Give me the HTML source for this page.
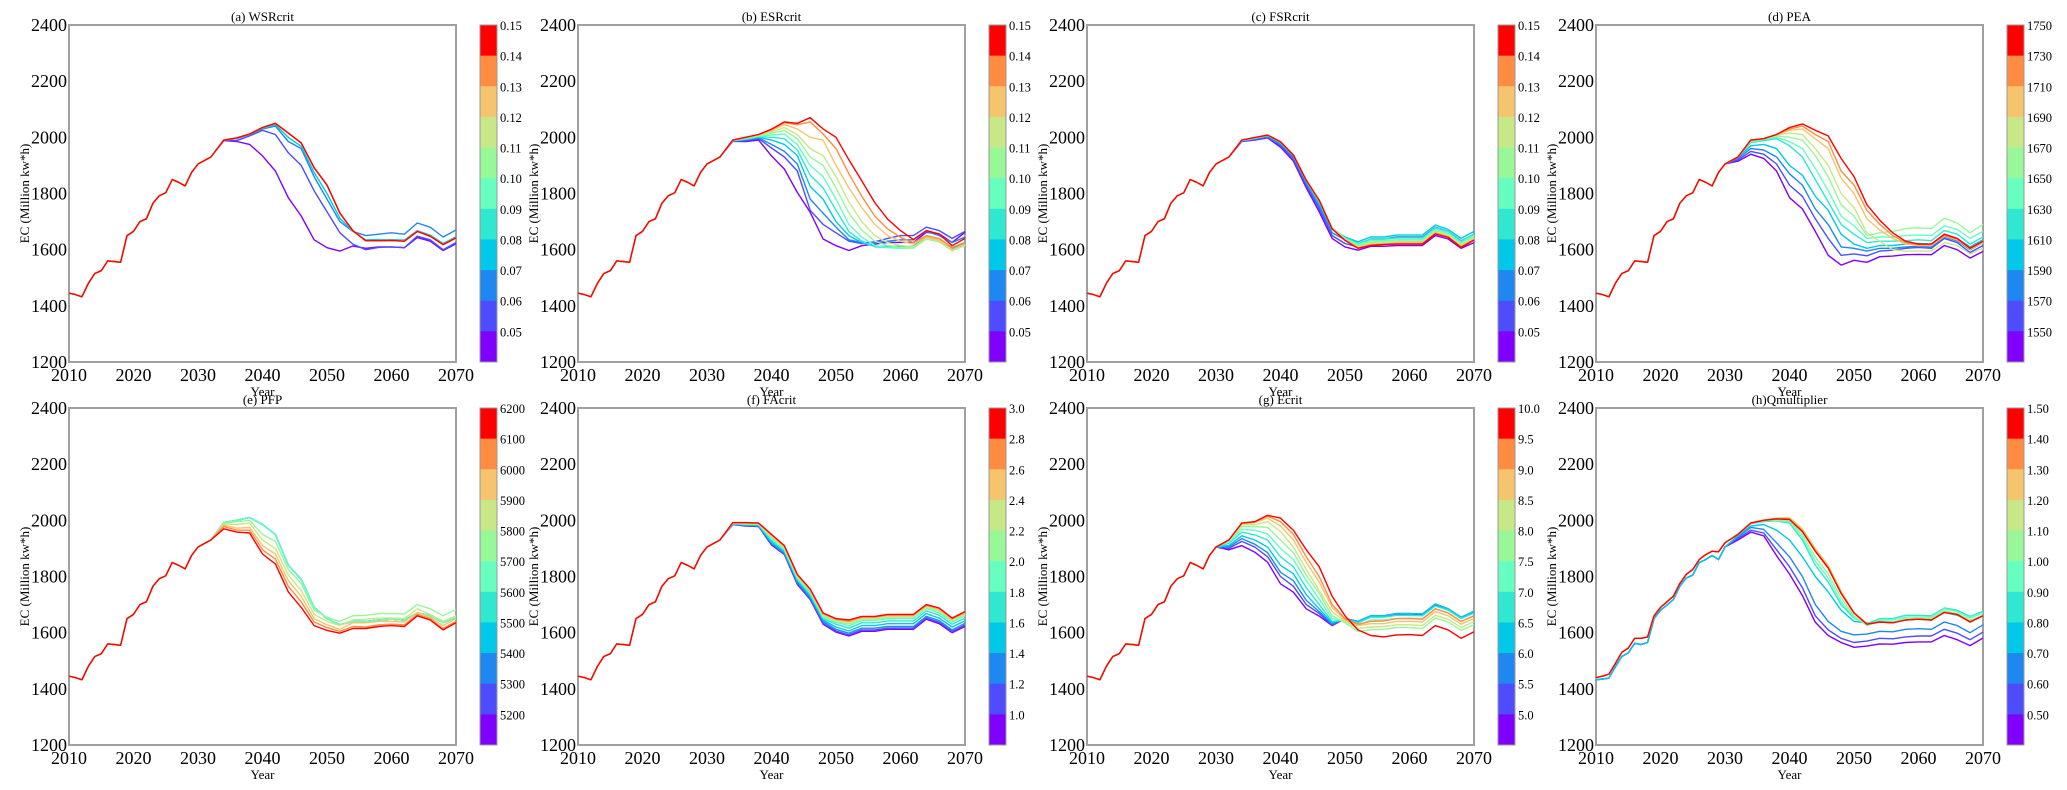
<!DOCTYPE html>
<html><head><meta charset="utf-8">
<style>
html,body{margin:0;padding:0;background:#fff;}
svg{display:block;font-family:"Liberation Serif",serif;}
</style></head>
<body>
<svg id="chart" width="2067" height="790" viewBox="0 0 2067 790" xmlns="http://www.w3.org/2000/svg"></svg>
<script>
// ---- shared data ----
const preYears = [2010,2011,2012,2013,2014,2015,2016,2017,2018,2019,2020,2021,2022,2023,2024,2025,2026,2027,2028,2029,2030];
const sufYears = [2032,2034,2036,2038,2040,2042,2044,2046,2048,2050,2052,2054,2056,2058,2060,2062,2064,2066,2068,2070];
const basePre = [1445,1440,1432,1480,1515,1525,1560,1558,1555,1650,1665,1700,1710,1765,1792,1803,1850,1840,1827,1875,1905];
const hPreHi = [1440,1445,1452,1490,1530,1545,1580,1580,1585,1660,1690,1710,1730,1775,1808,1825,1860,1878,1890,1888,1920];
const hPreLo = [1432,1435,1438,1478,1515,1528,1562,1558,1565,1650,1680,1698,1718,1765,1795,1805,1850,1860,1875,1860,1905];
const yTicks = [1200,1400,1600,1800,2000,2200,2400];
const xTicks = [2010,2020,2030,2040,2050,2060,2070];
const cmap = ["#8000ff","#4d4dff","#1e88f0","#00c8e8","#30e8d0","#66ffc0","#98f898","#c8e888","#f5c46c","#ff8c40","#ff0000"];

// ---- (a) WSRcrit ----
const aTitle = "(a) WSRcrit";
const aLabels = ["0.15","0.14","0.13","0.12","0.11","0.10","0.09","0.08","0.07","0.06","0.05"];
const aBase = [1930,1990,1998,2012,2035,2050,2015,1980,1892,1830,1730,1668,1632,1632,1633,1630,1665,1648,1618,1642];
const aVals = [
[1930,1988,1985,1975,1934,1880,1785,1720,1635,1607,1595,1613,1605,1610,1610,1607,1643,1630,1597,1621],
[1930,1988,1988,2005,2025,2010,1945,1900,1810,1735,1660,1620,1600,1608,1610,1607,1648,1635,1600,1625],
[1930,1990,1995,2010,2030,2040,1985,1960,1860,1780,1700,1665,1650,1655,1660,1655,1695,1680,1645,1670],
[1930,1990,1996,2011,2032,2045,2000,1968,1875,1800,1712,1665,1635,1636,1636,1634,1668,1652,1622,1646],
aBase,aBase,aBase,aBase,aBase,aBase,aBase];

// ---- (b) ESRcrit ----
const bTitle = "(b) ESRcrit";
const bLabels = aLabels;
const bVals = [
[1930,1986,1985,1990,1934,1887,1804,1733,1638,1614,1597,1614,1620,1626,1626,1626,1662,1656,1626,1662],
[1930,1986,1988,1996,1962,1930,1880,1740,1690,1660,1630,1622,1628,1640,1650,1650,1680,1668,1640,1665],
[1930,1988,1990,1998,1975,1950,1905,1780,1730,1680,1635,1625,1625,1630,1635,1635,1665,1650,1625,1645],
[1930,1988,1992,2000,1990,1975,1935,1825,1780,1700,1650,1625,1612,1612,1612,1612,1645,1632,1605,1622],
[1930,1988,1994,2002,2000,1995,1955,1865,1820,1740,1665,1630,1610,1608,1605,1608,1640,1630,1600,1618],
[1930,1988,1996,2004,2008,2012,1975,1900,1860,1780,1690,1645,1615,1608,1605,1606,1638,1628,1598,1615],
[1930,1990,1998,2006,2015,2025,1995,1930,1900,1820,1730,1670,1630,1615,1608,1606,1638,1628,1596,1615],
[1930,1990,2000,2008,2020,2035,2010,1960,1935,1860,1770,1700,1650,1625,1615,1610,1640,1630,1598,1618],
[1930,1990,2000,2010,2025,2045,2030,2000,1990,1900,1820,1750,1690,1650,1630,1620,1645,1635,1600,1620],
[1930,1990,2000,2010,2028,2052,2045,2055,2012,1960,1870,1790,1720,1674,1644,1625,1650,1640,1608,1626],
[1930,1990,2000,2010,2029,2055,2050,2070,2030,2000,1920,1845,1768,1709,1668,1636,1668,1656,1614,1640]];

// ---- (c) FSRcrit ----
const cTitle = "(c) FSRcrit";
const cLabels = aLabels;
const cVals = [
[1930,1985,1990,1998,1965,1915,1820,1735,1640,1610,1598,1612,1612,1615,1615,1615,1650,1638,1605,1625],
[1930,1986,1992,2000,1970,1922,1828,1745,1650,1622,1610,1625,1625,1630,1630,1630,1665,1650,1618,1640],
[1930,1987,1994,2002,1975,1928,1835,1755,1660,1635,1620,1638,1638,1645,1645,1645,1680,1665,1632,1655],
[1930,1988,1996,2005,1980,1935,1843,1765,1672,1645,1628,1645,1645,1652,1652,1652,1688,1672,1640,1665],
[1930,1989,1997,2007,1983,1937,1846,1772,1678,1642,1622,1638,1638,1642,1642,1642,1678,1664,1630,1656],
[1930,1989,1997,2007,1983,1937,1846,1773,1679,1640,1618,1632,1632,1636,1636,1636,1672,1658,1625,1650],
[1930,1990,1998,2008,1984,1937,1846,1774,1678,1638,1614,1628,1628,1632,1632,1632,1668,1654,1620,1645],
[1930,1990,1998,2008,1984,1937,1847,1775,1677,1636,1610,1624,1624,1628,1628,1628,1664,1650,1616,1641],
[1930,1990,1999,2008,1984,1937,1847,1775,1676,1635,1608,1620,1621,1624,1624,1624,1660,1647,1612,1637],
[1930,1990,1999,2008,1984,1937,1847,1776,1675,1634,1606,1617,1619,1622,1622,1622,1658,1645,1610,1635],
[1930,1990,1999,2008,1984,1937,1847,1776,1674,1633,1605,1615,1618,1620,1620,1620,1656,1644,1608,1634]];

// ---- (d) PEA ----
const dTitle = "(d) PEA";
const dLabels = ["1750","1730","1710","1690","1670","1650","1630","1610","1590","1570","1550"];
const dVals = [
[1915,1940,1925,1880,1785,1745,1665,1580,1545,1562,1555,1575,1577,1582,1583,1582,1615,1600,1570,1594],
[1920,1950,1940,1905,1830,1790,1710,1640,1580,1585,1578,1595,1598,1605,1608,1605,1640,1625,1590,1615],
[1925,1960,1955,1930,1870,1830,1745,1690,1610,1605,1595,1605,1605,1610,1612,1610,1645,1632,1600,1625],
[1930,1970,1975,1960,1900,1865,1790,1740,1655,1620,1605,1615,1615,1620,1622,1620,1655,1640,1610,1635],
[1930,1982,1988,1995,1970,1930,1850,1770,1690,1655,1625,1630,1630,1632,1635,1632,1668,1655,1620,1645],
[1930,1985,1992,2000,1985,1960,1890,1810,1720,1685,1640,1645,1645,1650,1652,1650,1685,1672,1640,1665],
[1930,1988,1995,2005,2000,1990,1935,1860,1760,1720,1650,1660,1665,1675,1678,1675,1712,1695,1660,1690],
[1930,1990,1995,2008,2015,2010,1960,1900,1800,1750,1660,1630,1600,1595,1595,1595,1625,1615,1585,1605],
[1930,1990,1995,2010,2025,2030,1995,1960,1855,1800,1710,1670,1640,1620,1615,1615,1648,1635,1602,1625],
[1930,1990,1995,2010,2030,2040,2010,1985,1880,1830,1740,1690,1650,1625,1618,1618,1650,1638,1605,1630],
[1930,1990,1995,2010,2035,2048,2025,2005,1925,1860,1760,1705,1660,1630,1620,1620,1655,1640,1605,1630]];

// ---- (e) PFP ----
const eTitle = "(e) PFP";
const eLabels = ["6200","6100","6000","5900","5800","5700","5600","5500","5400","5300","5200"];
const eTop = [1930,1992,2000,2010,1985,1950,1840,1790,1690,1650,1628,1640,1640,1645,1648,1645,1670,1662,1635,1655];
const eVals = [eTop,eTop,eTop,eTop,eTop,eTop,
[1930,1990,1995,2000,1950,1925,1825,1775,1680,1655,1640,1660,1662,1668,1668,1666,1700,1685,1660,1682],
[1930,1987,1985,1990,1930,1900,1805,1750,1665,1640,1625,1645,1648,1652,1652,1650,1685,1665,1640,1660],
[1930,1983,1972,1975,1910,1880,1785,1730,1650,1628,1612,1635,1635,1640,1640,1638,1672,1655,1625,1650],
[1930,1978,1965,1965,1895,1862,1765,1710,1638,1618,1605,1622,1620,1628,1630,1628,1665,1650,1615,1640],
[1930,1970,1958,1955,1880,1845,1745,1690,1625,1608,1598,1615,1615,1622,1625,1622,1660,1645,1610,1635]];

// ---- (f) FAcrit ----
const fTitle = "(f) FAcrit";
const fLabels = ["3.0","2.8","2.6","2.4","2.2","2.0","1.8","1.6","1.4","1.2","1.0"];
const fVals = [
[1930,1985,1980,1978,1912,1878,1772,1718,1630,1602,1588,1605,1605,1612,1612,1612,1648,1632,1600,1622],
[1930,1985,1981,1979,1915,1880,1775,1720,1634,1606,1592,1610,1610,1616,1616,1616,1652,1637,1604,1627],
[1930,1986,1982,1980,1918,1883,1780,1725,1640,1612,1598,1616,1616,1622,1622,1622,1658,1643,1610,1633],
[1930,1987,1984,1982,1922,1887,1785,1730,1645,1620,1606,1625,1625,1632,1632,1632,1668,1652,1620,1642],
[1930,1988,1985,1984,1928,1892,1790,1737,1650,1630,1616,1635,1635,1642,1642,1642,1678,1662,1630,1652],
[1930,1989,1987,1986,1935,1897,1795,1742,1655,1637,1624,1643,1643,1650,1650,1650,1686,1670,1638,1660],
[1930,1990,1988,1987,1940,1900,1800,1746,1660,1641,1630,1648,1648,1655,1655,1655,1690,1676,1642,1665],
[1930,1990,1989,1988,1943,1903,1802,1749,1663,1644,1635,1651,1651,1658,1658,1658,1693,1680,1645,1668],
[1930,1991,1990,1989,1946,1906,1805,1752,1666,1646,1640,1654,1654,1661,1661,1661,1696,1683,1648,1671],
[1930,1991,1991,1990,1948,1908,1806,1753,1668,1648,1642,1656,1656,1663,1663,1663,1698,1686,1650,1673],
[1930,1992,1992,1990,1950,1910,1808,1755,1670,1650,1645,1658,1658,1665,1665,1665,1700,1688,1652,1675]];

// ---- (g) Ecrit ----
const gTitle = "(g) Ecrit";
const gLabels = ["10.0","9.5","9.0","8.5","8.0","7.5","7.0","6.5","6.0","5.5","5.0"];
const gVals = [
[1895,1910,1887,1851,1774,1744,1685,1659,1625,1650,1640,1658,1658,1665,1666,1664,1698,1682,1652,1674],
[1900,1925,1905,1870,1800,1765,1700,1668,1628,1650,1640,1660,1660,1668,1668,1666,1700,1684,1654,1675],
[1905,1935,1915,1885,1815,1785,1715,1675,1630,1650,1640,1660,1660,1668,1668,1666,1702,1685,1655,1676],
[1910,1945,1930,1905,1840,1810,1735,1685,1635,1648,1640,1660,1660,1668,1668,1666,1702,1685,1655,1676],
[1918,1958,1948,1930,1870,1835,1760,1700,1640,1645,1635,1655,1655,1662,1662,1660,1695,1680,1650,1670],
[1925,1968,1965,1952,1900,1860,1785,1720,1650,1640,1625,1645,1645,1650,1652,1650,1685,1670,1640,1660],
[1928,1978,1978,1975,1930,1885,1805,1740,1660,1635,1605,1610,1612,1618,1618,1615,1652,1638,1608,1628],
[1930,1985,1985,1995,1960,1905,1825,1750,1675,1640,1615,1620,1622,1628,1628,1626,1662,1648,1618,1640],
[1930,1988,1992,2008,1980,1930,1850,1780,1690,1645,1625,1632,1632,1640,1640,1638,1675,1660,1630,1650],
[1930,1990,1995,2015,1995,1950,1870,1800,1700,1650,1630,1640,1642,1650,1650,1648,1685,1670,1640,1660],
[1930,1990,1995,2018,2008,1965,1895,1835,1730,1660,1610,1590,1585,1592,1593,1590,1625,1610,1580,1603]];

// ---- (h) Qmultiplier ----
const hTitle = "(h)Qmultiplier";
const hLabels = ["1.50","1.40","1.30","1.20","1.10","1.00","0.90","0.80","0.70","0.60","0.50"];
const hVals = [
[1930,1958,1945,1874,1809,1732,1637,1590,1565,1548,1552,1560,1559,1565,1567,1567,1590,1575,1554,1581],
[1935,1965,1955,1895,1835,1760,1660,1610,1580,1565,1570,1580,1578,1585,1588,1588,1612,1598,1575,1602],
[1940,1975,1968,1920,1870,1800,1700,1640,1605,1592,1595,1605,1603,1612,1614,1612,1638,1625,1600,1628],
[1945,1980,1985,1965,1930,1870,1800,1745,1680,1640,1635,1640,1638,1648,1650,1648,1672,1662,1640,1662],
[1950,1988,1996,1998,1990,1930,1840,1780,1700,1652,1632,1650,1650,1662,1662,1660,1688,1680,1658,1676],
[1950,1990,1998,2000,1995,1940,1855,1795,1710,1655,1628,1645,1645,1655,1656,1655,1685,1675,1652,1670],
[1950,1990,2000,2002,2000,1950,1870,1810,1725,1660,1625,1640,1638,1650,1652,1650,1678,1668,1645,1662],
[1952,1992,2002,2008,2010,1970,1900,1840,1748,1672,1632,1638,1635,1645,1648,1645,1672,1665,1638,1660],
[1951,1991,2001,2007,2008,1966,1896,1836,1745,1671,1631,1638,1635,1645,1648,1645,1672,1665,1638,1660],
[1950,1990,2000,2006,2005,1963,1893,1833,1742,1670,1630,1638,1635,1645,1648,1645,1672,1665,1638,1660],
[1950,1990,2000,2005,2003,1960,1890,1830,1740,1670,1630,1638,1635,1645,1648,1645,1672,1665,1638,1660]];

const NS = "http://www.w3.org/2000/svg";
const svg = document.getElementById("chart");
function mk(tag, attrs, parent){ const e=document.createElementNS(NS,tag); for(const k in attrs) e.setAttribute(k,attrs[k]); (parent||svg).appendChild(e); return e; }

function drawPanel(id, left, top, title, labels, vals, usePre){
  const W=387, H=337;
  const g = mk("g",{});
  
  
  const xs = y => left + (y-2010)/60*W;
  const ys = v => top + H - (v-1200)/1200*H;
  // frame
  const fr = mk("rect",{x:left,y:top,width:W,height:H,fill:"none",stroke:"#a0a0a0","stroke-width":2},g);
  
  
  // title
  const t = mk("text",{x:left+W/2,y:top-4,"text-anchor":"middle","font-size":13},g);
  t.textContent = title;
  
  
  // y ticks
  yTicks.forEach(v=>{
    const tl = mk("text",{x:left-2,y:ys(v)+6,"text-anchor":"end","font-size":18},g);
    tl.textContent = v;
    
    
  });
  xTicks.forEach(v=>{
    const tl = mk("text",{x:xs(v),y:top+H+19,"text-anchor":"middle","font-size":18},g);
    tl.textContent = v;
    
    
  });
  const xt = mk("text",{x:left+W/2,y:top+H+34,"text-anchor":"middle","font-size":13},g);
  xt.textContent = "Year";
  
  
  const yt = mk("text",{x:0,y:0,"text-anchor":"middle","font-size":13,transform:`translate(${left-40},${top+H/2}) rotate(-90)`},g);
  yt.textContent = "EC (Million kw*h)";
  
  
  // series
  vals.forEach((sv,i)=>{
    const pre = usePre ? (i<=3 ? hPreLo : hPreHi) : basePre;
    const pts = preYears.map((yr,j)=>xs(yr).toFixed(1)+","+ys(pre[j]).toFixed(1))
      .concat(sufYears.map((yr,j)=>xs(yr).toFixed(1)+","+ys(sv[j]).toFixed(1)));
    const pl = mk("polyline",{points:pts.join(" "),fill:"none",stroke:cmap[i],"stroke-width":1.4,"stroke-linejoin":"round"},g);
    
    
  });
  // colorbar
  const cbx = left+W+24, cbw=17, seg=H/11;
  for(let k=0;k<11;k++){
    const r = mk("rect",{x:cbx,y:top+k*seg,width:cbw,height:seg+0.5,fill:cmap[10-k]},g);
    
    
  }
  const cbf = mk("rect",{x:cbx,y:top,width:cbw,height:H,fill:"none",stroke:"#999","stroke-width":1},g);
  
  
  labels.forEach((lb,k)=>{
    const tl = mk("text",{x:cbx+cbw+3,y:top+k*seg+5,"font-size":12.5},g);
    tl.textContent = lb;
    
    
  });
}
const lefts=[69,578,1087,1596], tops=[25,408];
drawPanel("a",lefts[0],tops[0],aTitle,aLabels,aVals,false);
drawPanel("b",lefts[1],tops[0],bTitle,bLabels,bVals,false);
drawPanel("c",lefts[2],tops[0],cTitle,cLabels,cVals,false);
drawPanel("d",lefts[3],tops[0],dTitle,dLabels,dVals,false);
drawPanel("e",lefts[0],tops[1],eTitle,eLabels,eVals,false);
drawPanel("f",lefts[1],tops[1],fTitle,fLabels,fVals,false);
drawPanel("g",lefts[2],tops[1],gTitle,gLabels,gVals,false);
drawPanel("h",lefts[3],tops[1],hTitle,hLabels,hVals,true);
</script>
</body></html>
